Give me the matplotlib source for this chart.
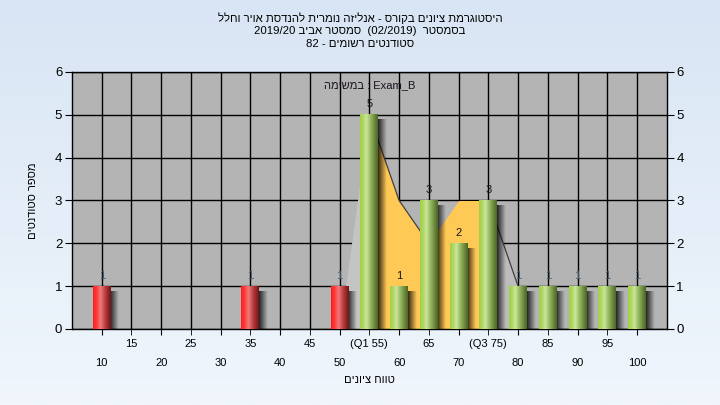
import re
import numpy as np
import matplotlib
matplotlib.use("Agg")
import matplotlib.pyplot as plt
from matplotlib.colors import LinearSegmentedColormap

# ---------------- data ----------------
scores = [10, 35, 50, 55, 60, 65, 70, 75, 80, 85, 90, 95, 100]
counts = [1, 1, 1, 5, 1, 3, 2, 3, 1, 1, 1, 1, 1]
fail_limit = 55
q1, q3 = 55, 75
curve_x = [55, 60, 65, 70, 75]
curve_y = [5, 3, 2, 3, 3]
left_wedge_x = [50, 55]
left_wedge_y = [0, 5]
right_wedge_x = [75, 80]
right_wedge_y = [3, 1]
upper_ticks = [15, 25, 35, 45, 55, 65, 75, 85, 95]
upper_labels = ["15", "25", "35", "45", "(Q1 55)", "65", "(Q3 75)", "85", "95"]
lower_ticks = [10, 20, 30, 40, 50, 60, 70, 80, 90, 100]
lower_labels = ["10", "20", "30", "40", "50", "60", "70", "80", "90", "100"]
y_ticks = [0, 1, 2, 3, 4, 5, 6]

title_lines = ["היסטוגרמת ציונים בקורס - אנליזה נומרית להנדסת אויר וחלל",
               "בסמסטר  (02/2019)  סמסטר אביב 2019/20",
               "סטודנטים רשומים - 82"]
exam_text = "Exam_B : במשימה"
x_title = "טווח ציונים"
y_title = "מספר סטודנטים"


def rtl(s):
    """Reorder a logical right-to-left string into visual order."""
    mirror = {'(': ')', ')': '('}
    r = ''.join(mirror.get(c, c) for c in reversed(s))
    return re.sub(r'[0-9A-Za-z_/.]+', lambda m: m.group(0)[::-1], r)


FONT = ['Liberation Sans', 'DejaVu Sans']
plt.rcParams['font.family'] = FONT

fig = plt.figure(figsize=(7.2, 4.05), dpi=100)

# figure background gradient
bg = fig.add_axes([0, 0, 1, 1], zorder=-10)
bg_cmap = LinearSegmentedColormap.from_list('bg', ['#d8e5f4', '#f0f6fc'])
bg.imshow(np.linspace(0, 1, 256).reshape(-1, 1), aspect='auto', cmap=bg_cmap,
          extent=(0, 1, 0, 1), origin='upper')
bg.axis('off')

ax = fig.add_axes([0.1, 0.1877, 0.826, 0.6346])
ax.set_facecolor('#b4b4b4')
ax.set_axisbelow(True)

# area (behind bars)
ax.fill_between(left_wedge_x, left_wedge_y, 0, color='#c4c4c4', lw=0, zorder=1.4)
ax.fill_between(right_wedge_x, right_wedge_y, 0, color='#bcbcbc', lw=0, zorder=1.4)
ax.fill_between(curve_x, curve_y, 0, color='#ffc955', lw=0, zorder=1.5)
ax.plot(curve_x[:3], curve_y[:3], color='#404040', lw=0.9, zorder=1.6)
ax.plot(right_wedge_x, right_wedge_y, color='#404040', lw=0.9, zorder=1.6)

w = 3.0
red_cmap = LinearSegmentedColormap.from_list(
    'red', [(0, '#ff1c1c'), (0.2, '#ff3a3a'), (0.42, '#f07a7a'), (0.7, '#b83a3a'), (1, '#6e1616')])
green_cmap = LinearSegmentedColormap.from_list(
    'green', [(0, '#a2cf48'), (0.2, '#b2d967'), (0.35, '#cbe79a'), (0.65, '#8aab55'), (1, '#4b6626')])
grad = np.linspace(0, 1, 64).reshape(1, -1)
shadow = np.zeros((1, 32, 4))
shadow[0, :, 3] = np.linspace(0.8, 0.0, 32)

for x, h in zip(scores, counts):
    cmap = red_cmap if x < fail_limit else green_cmap
    ax.imshow(shadow, extent=(x + w / 2 - 0.05, x + w / 2 + 1.4, -0.1, h - 0.12),
              aspect='auto', zorder=2.5, interpolation='bilinear')
    ax.imshow(grad, extent=(x - w / 2, x + w / 2, 0, h), aspect='auto', cmap=cmap,
              zorder=3, interpolation='bilinear')
    on_yellow = q1 < x < q3
    col = '#4a5a66' if (h == 1 and not on_yellow) else '#151515'
    ax.annotate(str(h), (x, h), xytext=(0, 4), textcoords='offset points',
                ha='center', va='bottom', fontsize=8, color=col, zorder=5)

ax.set_xlim(5, 105)
ax.set_ylim(0, 6)
ax.set_aspect('auto')

# grid
ax.set_xticks(lower_ticks)
ax.set_xticklabels(lower_labels, fontsize=8)
ax.set_xticks(upper_ticks, minor=True)
ax.set_xticklabels(upper_labels, minor=True, fontsize=8)
ax.tick_params(axis='x', which='major', length=4, pad=17, color='black')
ax.tick_params(axis='x', which='minor', length=4, pad=3, color='black')
ax.grid(True, which='both', axis='x', color='black', lw=1.0)
ax.set_yticks(y_ticks)
ax.tick_params(axis='y', which='both', length=5, labelsize=9.5, left=True, right=True,
               labelleft=True, labelright=True, pad=2)
ax.grid(True, which='major', axis='y', color='black', lw=1.0)
for s in ax.spines.values():
    s.set_color('black')
    s.set_linewidth(1.0)

ax.set_xlabel(rtl(x_title), fontsize=8, labelpad=5)
ax.set_ylabel(rtl(y_title), fontsize=8, labelpad=12)

ax.text(0.5, 0.95, rtl(exam_text), transform=ax.transAxes, ha='center', va='center',
        fontsize=8, color='#1a1020', zorder=6)

ys = [1 - 18 / 405, 1 - 31 / 405, 1 - 44 / 405]
for t, yy in zip(title_lines, ys):
    fig.text(0.5, yy, rtl(t), ha='center', va='center', fontsize=8.2, color='black')

fig.savefig('out.png', dpi=100)
